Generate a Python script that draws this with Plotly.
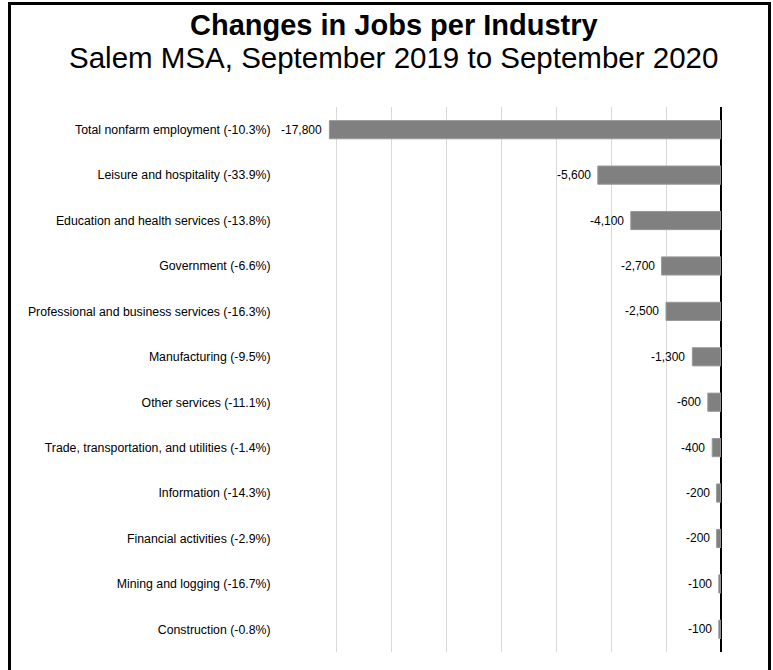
import plotly.graph_objects as go

categories = [
    "Total nonfarm employment (-10.3%)",
    "Leisure and hospitality (-33.9%)",
    "Education and health services (-13.8%)",
    "Government (-6.6%)",
    "Professional and business services (-16.3%)",
    "Manufacturing (-9.5%)",
    "Other services (-11.1%)",
    "Trade, transportation, and utilities (-1.4%)",
    "Information (-14.3%)",
    "Financial activities (-2.9%)",
    "Mining and logging (-16.7%)",
    "Construction (-0.8%)",
]
job_changes = [-17800, -5600, -4100, -2700, -2500, -1300, -600, -400, -200, -200, -100, -100]
x_ticks = [-20000, -17500, -15000, -12500, -10000, -7500, -5000, -2500, 0]
title_text = "Changes in Jobs per Industry"
subtitle_text = "Salem MSA, September 2019 to September 2020"

W, H = 773, 670
ML, MR, MT, MB = 281, 52, 107, 18
PW, PH = W - ML - MR, H - MT - MB

FONT = "Liberation Sans, Arial, sans-serif"


def px_to_paper_x(px):
    return (px - ML) / PW


def py_to_paper_y(py):
    return (H - MB - py) / PH


fig = go.Figure()
fig.add_trace(go.Bar(
    y=categories,
    x=job_changes,
    orientation="h",
    marker=dict(color="#808080", line=dict(color="#999999", width=1)),
    hoverinfo="skip",
))

for c, v in zip(categories, job_changes):
    fig.add_annotation(
        x=v, y=c, xref="x", yref="y",
        text=f"{v:,}",
        showarrow=False, xanchor="right", xshift=-5,
        font=dict(family=FONT, size=12, color="#000000"),
    )

fig.add_annotation(
    xref="paper", yref="paper",
    x=px_to_paper_x(394), y=py_to_paper_y(25),
    xanchor="center", yanchor="middle",
    text=f"<b>{title_text}</b>", showarrow=False,
    font=dict(family=FONT, size=29, color="#000000"),
)
fig.add_annotation(
    xref="paper", yref="paper",
    x=px_to_paper_x(393), y=py_to_paper_y(57),
    xanchor="center", yanchor="middle",
    text=subtitle_text, showarrow=False,
    font=dict(family=FONT, size=29.5, color="#000000"),
)

fig.add_shape(
    type="rect", xref="paper", yref="paper",
    x0=px_to_paper_x(9.5), x1=px_to_paper_x(769.5),
    y0=py_to_paper_y(680), y1=py_to_paper_y(3.5),
    line=dict(color="#000000", width=3), fillcolor="rgba(0,0,0,0)", layer="above",
)

fig.update_layout(
    width=W, height=H,
    margin=dict(l=ML, r=MR, t=MT, b=MB, pad=0),
    paper_bgcolor="white", plot_bgcolor="white",
    showlegend=False,
    bargap=0.6,
    font=dict(family=FONT, color="#000000"),
    xaxis=dict(
        range=[-20000, 0],
        tickvals=x_ticks,
        showticklabels=False,
        showgrid=True, gridcolor="#d9d9d9", gridwidth=1,
        zeroline=True, zerolinecolor="#000000", zerolinewidth=1.5,
        showline=False, fixedrange=True,
    ),
    yaxis=dict(
        categoryorder="array", categoryarray=categories,
        autorange="reversed",
        ticks="outside", ticklen=7, tickcolor="rgba(0,0,0,0)",
        tickfont=dict(family=FONT, size=12.3, color="#000000"),
        showgrid=False, zeroline=False, showline=False,
        fixedrange=True,
    ),
)

fig.write_html(
    "out.html",
    config={"displayModeBar": False},
    post_script="document.body.style.margin='0';document.body.style.overflow='hidden';",
)
